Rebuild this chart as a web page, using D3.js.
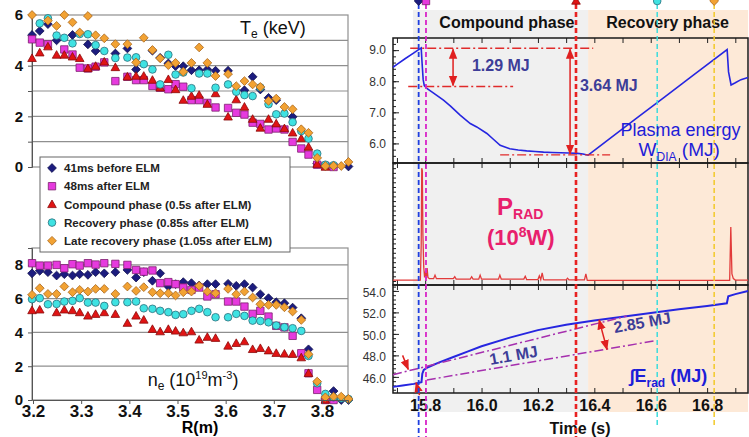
<!DOCTYPE html>
<html>
<head>
<meta charset="utf-8">
<script src="https://cdnjs.cloudflare.com/ajax/libs/d3/7.8.5/d3.min.js"></script>
<style>
  body { margin: 0; background: #fff; }
  svg { display: block; font-family: Arial, "Liberation Sans", sans-serif; }
</style>
</head>
<body>
<svg id="chart" width="749" height="437"></svg>
<script>
// ---------- left: profiles vs major radius ----------
const radius = [3.198, 3.214, 3.231, 3.249, 3.265, 3.282, 3.297, 3.314, 3.330, 3.348,
  3.371, 3.396, 3.414, 3.430, 3.448, 3.464, 3.481, 3.496, 3.512, 3.529,
  3.545, 3.562, 3.579, 3.605, 3.622, 3.639, 3.656, 3.672, 3.689, 3.705,
  3.722, 3.739, 3.757, 3.772, 3.790, 3.807, 3.824, 3.840, 3.855];

const teBefore = [5.21, 5.37, 5.64, 5.0, null, 5.21, null, 4.84, 4.58, null,
  4.48, 4.68, 3.85, null, 4.59, 4.31, 4.09, 3.98, 3.98, 3.82,
  3.82, 3.85, 3.8, 3.8, null, 3.03, 3.56, 3.06, 2.73, 2.64,
  null, 1.98, null, null, 0.13, 0.04, 0.04, null, 0.02];
const teAfter = [5.04, 4.91, 4.84, null, 4.64, 4.44, 3.92, 3.89, 3.96, 4.13,
  3.39, 3.56, 3.43, 3.43, 3.2, 3.13, 3.07, 3.27, 3.17, 2.64,
  2.64, 2.53, 2.35, 2.33, 2.14, 2.07, 1.75, 1.7, 1.48, 1.52,
  1.48, 0.99, 0.73, 0.49, 0.09, 0.04, 0.0, null, null];
const teCompound = [4.29, 4.51, 4.75, 4.42, 4.42, 4.35, 4.29, 3.89, 3.98, 4.15,
  3.93, 3.56, 3.59, 3.59, 3.43, 3.13, 3.46, 3.06, 2.64, 2.8,
  2.84, 2.48, 2.9, 1.98, 2.66, 2.37, 1.89, 1.54, 1.89, 1.71,
  1.52, 1.35, 1.12, 0.79, 0.11, 0.0, null, null, null];
const teRecovery = [null, 5.67, 5.87, 5.19, 5.1, 4.88, 5.25, 5.24, 4.81, 4.58,
  4.3, 4.32, 4.33, 4.06, 3.85, 3.26, 4.43, 3.65, 3.73, 3.11,
  3.69, 3.69, 3.13, 3.26, 2.97, 2.84, 2.8, 3.14, 2.48, 2.08,
  2.11, 1.77, 1.42, 1.12, 0.53, 0.09, 0.07, null, null];
const teLate = [6.0, null, 5.78, 5.57, 6.0, 5.71, 5.31, 5.96, 5.2, 5.08,
  4.85, 4.85, 4.13, 5.1, 4.62, 4.29, 4.02, 4.11, 3.76, 4.11,
  4.72, 4.11, 3.59, 3.67, 3.19, 3.39, 3.26, 3.16, 2.61, 2.7,
  2.37, 2.28, 1.49, 1.35, 0.36, 0.04, 0.04, 0.04, 0.2];

const neBefore = [7.5, 7.65, 7.57, 7.37, 7.45, 7.37, 7.45, 7.41, 7.57, 7.5,
  7.57, 7.7, 7.25, 7.57, 7.06, 7.5, 6.72, 6.86, 6.98, 6.92,
  6.78, 6.86, 6.86, 6.88, 6.76, 6.86, 6.66, 6.26, 6.03, 5.79,
  5.73, 5.47, 4.84, 3.0, null, 0.1, 0.53, 0.0, 0.0];
const neAfter = [8.1, 7.96, 7.96, 8.0, 7.8, 8.04, 7.96, 8.1, 8.02, 8.1,
  8.06, 8.0, 7.7, 7.6, 7.67, 6.92, 6.98, 6.86, 6.66, 6.52,
  6.66, 6.13, 6.26, 5.83, 5.83, 5.53, 5.1, 5.28, 4.94, 4.39,
  4.3, 3.8, 2.77, 1.58, 0.6, 0.0, 0.0, null, null];
const neCompound = [5.3, 5.34, null, 5.18, 5.34, 5.3, 5.18, 4.98, 5.08, 5.18,
  5.08, 4.55, 4.98, 4.74, 4.19, 4.05, 4.19, 4.09, 3.99, 4.05,
  3.56, 3.72, 3.66, 3.2, 3.36, 3.46, 3.0, 3.06, 2.92, 2.77,
  2.73, 2.71, 2.51, 1.58, null, 0.0, null, null, null];
const neRecovery = [5.97, 6.03, 5.67, 5.69, 5.83, 5.87, 6.03, 5.77, 5.77, 5.57,
  5.79, 5.79, 5.83, 5.43, 5.4, 5.28, 5.2, 5.04, 5.08, 5.28,
  5.4, 5.2, 4.9, 4.9, 5.1, 4.98, 4.7, 4.68, 4.6, 4.41,
  4.31, 4.25, 4.09, 2.61, 0.99, 0.36, 0.16, 0.1, 0.06];
const neLate = [6.23, 6.62, 6.28, 6.28, 6.72, 6.38, 6.52, 6.42, 6.58, 6.58,
  6.28, 6.72, 6.46, 6.68, 6.38, 6.32, 6.32, 6.19, 6.38, 6.42,
  6.76, 6.42, 6.32, 6.58, 6.26, 6.42, 6.07, 5.67, 5.63, 5.63,
  5.49, 5.24, 4.74, 2.71, 1.09, 0.16, 0.2, 0.2, 0.06];

const legendLabels = ['41ms before ELM', '48ms after ELM', 'Compound phase (0.5s after ELM)',
  'Recovery phase (0.85s after ELM)', 'Late recovery phase (1.05s after ELM)'];
const radiusTicks = [3.2, 3.3, 3.4, 3.5, 3.6, 3.7, 3.8];

// ---------- right: time traces ----------
const wTime = [15.686, 15.70, 15.73, 15.76, 15.786, 15.789, 15.793, 15.797, 15.806, 15.83,
  15.865, 15.89, 15.924, 15.96, 15.983, 16.019, 16.04, 16.066, 16.10, 16.13,
  16.16, 16.19, 16.22, 16.25, 16.28, 16.31, 16.34, 16.36, 16.378, 16.45,
  16.55, 16.65, 16.75, 16.871, 16.876, 16.885, 16.90, 16.92, 16.945];
const wVal = [8.45, 8.54, 8.73, 8.91, 9.07, 8.6, 8.05, 7.86, 7.77, 7.62,
  7.39, 7.2, 6.91, 6.64, 6.53, 6.32, 6.15, 5.94, 5.83, 5.79,
  5.76, 5.74, 5.72, 5.71, 5.7, 5.69, 5.68, 5.66, 5.62, 6.12,
  6.81, 7.5, 8.19, 9.02, 8.3, 7.88, 7.95, 8.05, 8.12];

const pTime = [15.686, 15.783, 15.786, 15.788, 15.790, 15.792, 15.795, 15.798, 15.801, 15.804,
  15.807, 15.810, 15.815, 15.830, 15.835, 15.840, 15.900, 15.905, 15.910, 15.960,
  15.965, 15.970, 15.990, 15.995, 16.000, 16.060, 16.065, 16.070, 16.150, 16.155,
  16.160, 16.200, 16.205, 16.210, 16.215, 16.220, 16.225, 16.300, 16.305, 16.310,
  16.365, 16.370, 16.375, 16.880, 16.884, 16.888, 16.893, 16.900, 16.945];
const pVal = [0.04, 0.04, 1.5, 4.8, 4.7, 2.0, 0.6, 0.15, 0.4, 0.1,
  0.55, 0.15, 0.1, 0.1, 0.25, 0.1, 0.1, 0.18, 0.08, 0.08,
  0.18, 0.08, 0.08, 0.25, 0.08, 0.08, 0.25, 0.08, 0.08, 0.2,
  0.06, 0.06, 0.22, 0.06, 0.35, 0.06, 0.05, 0.05, 0.12, 0.05,
  0.05, 0.3, 0.03, 0.03, 2.3, 0.3, 0.1, 0.04, 0.04];

const eTime = [15.686, 15.72, 15.76, 15.787, 15.79, 15.795, 15.81, 15.85, 15.9, 15.95,
  16.0, 16.1, 16.2, 16.3, 16.4, 16.5, 16.6, 16.7, 16.8, 16.87,
  16.875, 16.9, 16.945];
const eVal = [45.07, 45.2, 45.35, 45.5, 46.3, 46.65, 46.9, 47.35, 47.85, 48.35,
  48.85, 49.65, 50.35, 50.85, 51.25, 51.6, 51.95, 52.3, 52.6, 52.85,
  53.5, 53.7, 54.0];

const phaseNames = ['Compound phase', 'Recovery phase'];
const phaseStart = [15.757, 16.378];
const phaseEnd = [16.378, 16.945];
const phaseLabelTime = [16.09, 16.66];
const eventTimes = [15.777, 15.803, 16.335, 16.623, 16.825];
const timeTicks = [15.8, 16.0, 16.2, 16.4, 16.6, 16.8];

// ---------------------------------------------------------
const svg = d3.select('#chart');
svg.append('rect').attr('width', 749).attr('height', 437).attr('fill', '#fff');

const styles = [
  {shape: 'diamond', fill: '#1c1c7e', stroke: '#12124f'},
  {shape: 'square', fill: '#e63ade', stroke: '#7d1f6f'},
  {shape: 'triangle', fill: '#e01414', stroke: '#8a0a0a'},
  {shape: 'circle', fill: '#3fe2e2', stroke: '#2b6f7c'},
  {shape: 'diamond', fill: '#f2a233', stroke: '#a8661c'}
];
const teSeries = [teBefore, teAfter, teCompound, teRecovery, teLate];
const neSeries = [neBefore, neAfter, neCompound, neRecovery, neLate];

function shapePath(shape) {
  if (shape === 'diamond') return 'M0,-4.4L4.4,0L0,4.4L-4.4,0Z';
  if (shape === 'square') return 'M-3.7,-3.7H3.7V3.7H-3.7Z';
  if (shape === 'triangle') return 'M0,-4.4L4.3,3.2L-4.3,3.2Z';
  return d3.symbol(d3.symbolCircle, 46)();
}

const xR = d3.scaleLinear().domain([3.2, 3.854]).range([33, 348]);
const yTe = d3.scaleLinear().domain([0, 6]).range([167, 15]);
const yNe = d3.scaleLinear().domain([0, 9]).range([400, 248]);

function profilePanel(y, values, grid, ticks) {
  const g = svg.append('g');
  const [bottom, top] = y.range();
  g.selectAll('line.grid').data(grid).join('line')
    .attr('x1', 32).attr('x2', 348)
    .attr('y1', d => y(d)).attr('y2', d => y(d))
    .attr('stroke', '#8f8f8f').attr('stroke-width', 1.2);
  g.append('rect').attr('x', 32).attr('y', top).attr('width', 316).attr('height', bottom - top)
    .attr('fill', 'none').attr('stroke', '#8f8f8f').attr('stroke-width', 1.2);
  const ax = g.append('g').attr('transform', 'translate(32,0)')
    .call(d3.axisLeft(y).tickValues(ticks).tickSize(4).tickPadding(5)
      .tickFormat(d => d % 2 ? '' : d));
  ax.select('.domain').attr('stroke', '#555');
  ax.selectAll('line').attr('stroke', '#555');
  ax.selectAll('text').attr('font-size', 15).attr('font-weight', 'bold').attr('fill', '#111');
  values.forEach((vals, k) => {
    const pts = radius.map((r, i) => [r, vals[i]]).filter(d => d[1] != null);
    g.selectAll(null).data(pts).join('path')
      .attr('transform', d => `translate(${xR(d[0])},${y(d[1])})`)
      .attr('d', shapePath(styles[k].shape))
      .attr('fill', styles[k].fill).attr('stroke', styles[k].stroke).attr('stroke-width', 0.8);
  });
  return g;
}

profilePanel(yTe, teSeries, [1, 2, 3, 4, 5], d3.range(0, 7));
const neG = profilePanel(yNe, neSeries, [2, 4, 6, 8], [0, 2, 4, 6, 8]);
const xAx = neG.append('g').attr('transform', 'translate(0,400)')
  .call(d3.axisBottom(xR).tickValues(radiusTicks).tickSize(4).tickPadding(1).tickFormat(d3.format('.1f')));
xAx.select('.domain').attr('stroke', '#555');
xAx.selectAll('line').attr('stroke', '#555');
xAx.selectAll('text').attr('font-size', 17).attr('font-weight', 'bold').attr('fill', '#111');

svg.append('text').attr('x', 200).attr('y', 433).attr('text-anchor', 'middle')
  .attr('font-size', 16).attr('font-weight', 'bold').text('R(m)');

const teTitle = svg.append('text').attr('x', xR(3.63)).attr('y', yTe(5.25)).attr('font-size', 18).attr('fill', '#111');
teTitle.append('tspan').text('T');
teTitle.append('tspan').attr('font-size', 12).attr('dy', 4).text('e');
teTitle.append('tspan').attr('dy', -4).text(' (keV)');

const neTitle = svg.append('text').attr('x', xR(3.438)).attr('y', yNe(0.82)).attr('font-size', 18).attr('fill', '#111');
neTitle.append('tspan').text('n');
neTitle.append('tspan').attr('font-size', 12).attr('dy', 4).text('e');
neTitle.append('tspan').attr('dy', -4).text(' (10');
neTitle.append('tspan').attr('font-size', 11).attr('dy', -7).text('19');
neTitle.append('tspan').attr('dy', 7).text('m');
neTitle.append('tspan').attr('font-size', 11).attr('dy', -7).text('-3');
neTitle.append('tspan').attr('dy', 7).text(')');

// legend
const legend = svg.append('g');
legend.append('rect').attr('x', 40).attr('y', 157).attr('width', 250).attr('height', 95)
  .attr('fill', '#fff').attr('stroke', '#666').attr('stroke-width', 1);
const rows = legend.selectAll('g').data(legendLabels).join('g')
  .attr('transform', (d, i) => `translate(52,${168 + i * 18.2})`);
rows.append('path').attr('d', (d, i) => shapePath(styles[i].shape))
  .attr('fill', (d, i) => styles[i].fill).attr('stroke', (d, i) => styles[i].stroke).attr('stroke-width', 0.8);
rows.append('text').attr('x', 12).attr('dy', '0.36em').attr('font-size', 11.6)
  .attr('font-weight', 'bold').attr('fill', '#222').text(d => d);

// ---------- right panels ----------
const xT = d3.scaleLinear().domain([15.686, 16.945]).range([393, 748]);
const yW = d3.scaleLinear().domain([5.37, 9.39]).range([163, 38]);
const yP = d3.scaleLinear().domain([-0.17, 5.02]).range([285, 163]);
const yE = d3.scaleLinear().domain([44.5, 54.55]).range([393, 285]);

const defs = svg.append('defs');
defs.append('marker').attr('id', 'arrowRed').attr('viewBox', '0 0 10 10').attr('refX', 9).attr('refY', 5)
  .attr('markerWidth', 7).attr('markerHeight', 7).attr('orient', 'auto-start-reverse')
  .append('path').attr('d', 'M0,1L10,5L0,9Z').attr('fill', '#e02020');
defs.append('clipPath').attr('id', 'midClip').append('rect')
  .attr('x', 340).attr('y', 164).attr('width', 60).attr('height', 120);

// phase shading
phaseNames.forEach((name, i) => {
  svg.append('rect').attr('x', xT(phaseStart[i])).attr('y', 10)
    .attr('width', xT(phaseEnd[i]) - xT(phaseStart[i])).attr('height', 402)
    .attr('fill', i === 0 ? '#f0f0f0' : '#fde9d7');
  svg.append('text').attr('x', xT(phaseLabelTime[i])).attr('y', 28).attr('text-anchor', 'middle')
    .attr('font-size', 16).attr('font-weight', 'bold').attr('fill', '#111').text(name);
});

function framePanel(y, majors, minors, clip, shift) {
  const g = svg.append('g');
  const [bottom, top] = y.range();
  const left = g.append('g').attr('transform', 'translate(393,0)');
  if (clip) left.attr('clip-path', 'url(#midClip)');
  left.call(d3.axisLeft(y).tickValues(majors).tickSize(-6).tickPadding(7).tickFormat(d3.format('.1f')));
  left.selectAll('text').attr('font-size', 12).attr('fill', '#333')
    .attr('transform', `translate(0,${shift || 0})`);
  g.append('g').attr('transform', 'translate(393,0)')
    .call(d3.axisLeft(y).tickValues(minors).tickSize(-3).tickFormat(''));
  g.append('g').attr('transform', `translate(0,${bottom})`)
    .call(d3.axisBottom(xT).tickValues(d3.range(15.7, 16.95, 0.1)).tickSize(-5).tickFormat(''));
  g.append('g').attr('transform', `translate(0,${top})`)
    .call(d3.axisTop(xT).tickValues(d3.range(15.7, 16.95, 0.1)).tickSize(-5).tickFormat(''));
  g.selectAll('.domain').remove();
  g.selectAll('line').attr('stroke', '#222');
  g.append('rect').attr('x', 393).attr('y', top).attr('width', 355).attr('height', bottom - top)
    .attr('fill', 'none').attr('stroke', '#1a1a1a').attr('stroke-width', 1.5);
  return g;
}

framePanel(yW, [6, 7, 8, 9], d3.range(5.4, 9.39, 0.2));
framePanel(yP, [0, 1, 2, 3, 4, 5], d3.range(0, 5.01, 0.2), true, -1);
framePanel(yE, [46, 48, 50, 52, 54], d3.range(44.8, 54.5, 0.4), false, 1.5);

const bx = svg.append('g').attr('transform', 'translate(0,393)')
  .call(d3.axisBottom(xT).tickValues(timeTicks).tickSize(0).tickPadding(7).tickFormat(d3.format('.1f')));
bx.select('.domain').remove();
bx.selectAll('text').attr('font-size', 16).attr('font-weight', 'bold').attr('fill', '#111');
svg.append('text').attr('x', 580).attr('y', 434).attr('text-anchor', 'middle')
  .attr('font-size', 16).attr('font-weight', 'bold').attr('fill', '#111').text('Time (s)');

// traces
const lineW = d3.line().x((d, i) => xT(wTime[i])).y(d => yW(d));
svg.append('path').attr('d', lineW(wVal)).attr('fill', 'none').attr('stroke', '#2626e0').attr('stroke-width', 1.6);
const lineP = d3.line().x((d, i) => xT(pTime[i])).y(d => yP(d));
svg.append('path').attr('d', lineP(pVal)).attr('fill', 'none').attr('stroke', '#e23a3a').attr('stroke-width', 1.3);
const lineE = d3.line().x((d, i) => xT(eTime[i])).y(d => yE(d));
svg.append('path').attr('d', lineE(eVal)).attr('fill', 'none').attr('stroke', '#2626e0').attr('stroke-width', 2);

// reference dash-dot lines
const dashDot = '9,3,2,3';
const wRefs = [[15.747, 16.396, 9.06], [15.74, 16.112, 7.83], [16.066, 16.456, 5.63]];
svg.selectAll(null).data(wRefs).join('line')
  .attr('x1', d => xT(d[0])).attr('x2', d => xT(d[1]))
  .attr('y1', d => yW(d[2])).attr('y2', d => yW(d[2]))
  .attr('stroke', '#e02a2a').attr('stroke-width', 1.4).attr('stroke-dasharray', dashDot);
const eRefs = [[15.686, 46.2, 16.515, 51.66], [15.806, 45.71, 16.61, 49.34]];
svg.selectAll(null).data(eRefs).join('line')
  .attr('x1', d => xT(d[0])).attr('y1', d => yE(d[1]))
  .attr('x2', d => xT(d[2])).attr('y2', d => yE(d[3]))
  .attr('stroke', '#a52fae').attr('stroke-width', 1.5).attr('stroke-dasharray', dashDot);

// red arrows
const arrowsW = [[15.899, 9.03, 7.86], [16.314, 9.03, 5.66]];
svg.selectAll(null).data(arrowsW).join('line')
  .attr('x1', d => xT(d[0])).attr('x2', d => xT(d[0]))
  .attr('y1', d => yW(d[1])).attr('y2', d => yW(d[2]))
  .attr('stroke', '#e02020').attr('stroke-width', 1.5)
  .attr('marker-start', 'url(#arrowRed)').attr('marker-end', 'url(#arrowRed)');
const arrowsE = [[15.72, 48.0, 15.74, 46.7, false], [15.78, 44.3, 15.768, 45.45, false],
  [16.417, 51.3, 16.445, 48.55, true]];
svg.selectAll(null).data(arrowsE).join('line')
  .attr('x1', d => xT(d[0])).attr('y1', d => yE(d[1]))
  .attr('x2', d => xT(d[2])).attr('y2', d => yE(d[3]))
  .attr('stroke', '#e02020').attr('stroke-width', 1.5)
  .attr('marker-start', d => d[4] ? 'url(#arrowRed)' : null)
  .attr('marker-end', 'url(#arrowRed)');

// event lines and markers
const eventColors = ['#1f3fe0', '#d824c8', '#e82222', '#3cdcdc', '#f2c928'];
const eventWidths = [1.8, 1.8, 2.6, 1.5, 1.5];
const eventBottoms = [437, 437, 437, 428, 428];
svg.selectAll(null).data(eventTimes).join('line')
  .attr('x1', d => xT(d)).attr('x2', d => xT(d))
  .attr('y1', 4).attr('y2', (d, i) => eventBottoms[i])
  .attr('stroke', (d, i) => eventColors[i]).attr('stroke-width', (d, i) => eventWidths[i])
  .attr('stroke-dasharray', '5,3');
svg.selectAll(null).data(eventTimes).join('path')
  .attr('transform', d => `translate(${xT(d)},1)`)
  .attr('d', (d, i) => shapePath(styles[i].shape))
  .attr('fill', (d, i) => styles[i].fill).attr('stroke', (d, i) => styles[i].stroke).attr('stroke-width', 0.8);

// annotations
const annColor = '#3d3d98';
svg.append('text').attr('x', xT(15.966)).attr('y', yW(8.32)).attr('font-size', 16).attr('font-weight', 'bold')
  .attr('fill', annColor).text('1.29 MJ');
svg.append('text').attr('x', xT(16.349)).attr('y', yW(7.67)).attr('font-size', 16).attr('font-weight', 'bold')
  .attr('fill', annColor).text('3.64 MJ');
svg.append('text').attr('transform', `translate(${xT(16.117)},${yE(47.5)}) rotate(-10)`).attr('text-anchor', 'middle')
  .attr('font-size', 16).attr('font-weight', 'bold').attr('fill', annColor).text('1.1 MJ');
svg.append('text').attr('transform', `translate(${xT(16.573)},${yE(50.55)}) rotate(-10)`).attr('text-anchor', 'middle')
  .attr('font-size', 16).attr('font-weight', 'bold').attr('fill', annColor).text('2.85 MJ');

const blue = '#1d1dd8';
svg.append('text').attr('x', xT(16.493)).attr('y', yW(6.23)).attr('font-size', 18).attr('fill', blue).text('Plasma energy');
const wLab = svg.append('text').attr('x', xT(16.557)).attr('y', yW(5.6)).attr('font-size', 19).attr('fill', blue);
wLab.append('tspan').text('W');
wLab.append('tspan').attr('font-size', 12).attr('dy', 5).text('DIA');
wLab.append('tspan').attr('dy', -5).text(' (MJ)');

const pink = '#e8206c';
const pLab = svg.append('text').attr('x', xT(16.055)).attr('y', yP(2.79)).attr('font-size', 24)
  .attr('font-weight', 'bold').attr('fill', pink);
pLab.append('tspan').text('P');
pLab.append('tspan').attr('font-size', 14).attr('dy', 4).text('RAD');
const pUnit = svg.append('text').attr('x', xT(16.019)).attr('y', yP(1.55)).attr('font-size', 22)
  .attr('font-weight', 'bold').attr('fill', pink);
pUnit.append('tspan').text('(10');
pUnit.append('tspan').attr('font-size', 14).attr('dy', -8).text('8');
pUnit.append('tspan').attr('dy', 8).text('W)');

const eLab = svg.append('text').attr('x', xT(16.525)).attr('y', yE(45.55)).attr('font-size', 18)
  .attr('font-weight', 'bold').attr('fill', blue);
eLab.append('tspan').text('\u222BE');
eLab.append('tspan').attr('font-size', 12).attr('dy', 5).text('rad');
eLab.append('tspan').attr('dy', -5).text(' (MJ)');
</script>
</body>
</html>
